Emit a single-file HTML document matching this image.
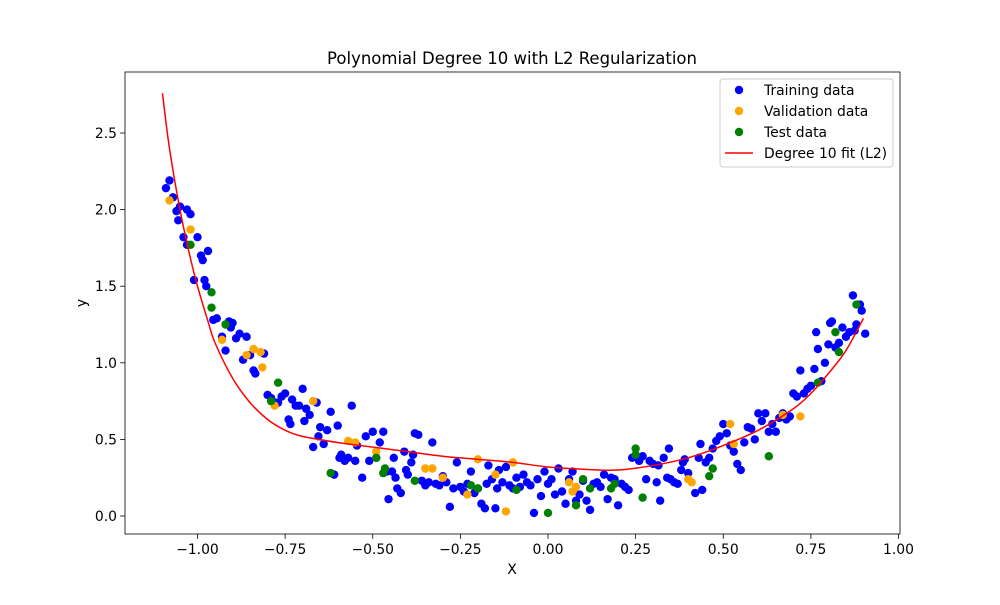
<!DOCTYPE html>
<html><head><meta charset="utf-8"><style>
body{margin:0;background:#fff}
svg text{font-family:"DejaVu Sans","Liberation Sans",sans-serif;fill:#000}
</style></head><body>
<svg id="chart" width="1000" height="600" viewBox="0 0 1000 600">
<rect width="1000" height="600" fill="#fff"/>
<text x="512" y="64" font-size="16.5" text-anchor="middle">Polynomial Degree 10 with L2 Regularization</text>
<text x="512" y="574" font-size="14" text-anchor="middle">X</text>
<text x="86" y="303" font-size="14" text-anchor="middle" transform="rotate(-90 86 303)">y</text>
<g id="plot"></g>
</svg>
<script>
const xTicks=[-1.00,-0.75,-0.50,-0.25,0.00,0.25,0.50,0.75,1.00];
const xTickLabels=["−1.00","−0.75","−0.50","−0.25","0.00","0.25","0.50","0.75","1.00"];
const yTicks=[0,0.5,1,1.5,2,2.5];
const yTickLabels=["0.0","0.5","1.0","1.5","2.0","2.5"];
const trainX=[-1.09,-1.08,-1.07,-1.06,-1.05,-1.055,-1.04,-1.03,-1.03,-1.02,-1.0,-0.99,-0.985,-1.01,-0.98,-0.975,-0.97,-0.955,-0.945,-0.93,-0.92,-0.91,-0.9,-0.905,-0.89,-0.88,-0.87,-0.86,-0.85,-0.84,-0.835,-0.81,-0.8,-0.79,-0.78,-0.77,-0.76,-0.75,-0.74,-0.735,-0.73,-0.72,-0.71,-0.7,-0.695,-0.69,-0.68,-0.67,-0.66,-0.655,-0.65,-0.64,-0.63,-0.62,-0.61,-0.6,-0.595,-0.59,-0.58,-0.57,-0.56,-0.55,-0.545,-0.53,-0.52,-0.51,-0.5,-0.49,-0.48,-0.47,-0.46,-0.455,-0.445,-0.44,-0.435,-0.43,-0.42,-0.41,-0.405,-0.4,-0.39,-0.385,-0.38,-0.37,-0.36,-0.35,-0.34,-0.33,-0.32,-0.31,-0.3,-0.29,-0.28,-0.27,-0.26,-0.25,-0.24,-0.23,-0.22,-0.21,-0.2,-0.19,-0.18,-0.175,-0.17,-0.16,-0.15,-0.145,-0.14,-0.13,-0.12,-0.11,-0.1,-0.09,-0.08,-0.07,-0.06,-0.05,-0.04,-0.03,-0.02,-0.01,0.0,0.01,0.02,0.03,0.04,0.05,0.06,0.07,0.08,0.09,0.1,0.11,0.12,0.13,0.14,0.15,0.16,0.17,0.18,0.19,0.2,0.21,0.22,0.23,0.24,0.26,0.27,0.28,0.29,0.3,0.31,0.315,0.32,0.33,0.34,0.345,0.35,0.36,0.37,0.38,0.385,0.39,0.4,0.42,0.43,0.435,0.44,0.45,0.46,0.47,0.48,0.49,0.5,0.51,0.52,0.53,0.54,0.55,0.56,0.57,0.58,0.59,0.6,0.61,0.62,0.63,0.64,0.65,0.66,0.67,0.68,0.69,0.7,0.71,0.72,0.73,0.74,0.75,0.76,0.765,0.77,0.78,0.79,0.8,0.805,0.81,0.82,0.83,0.84,0.85,0.86,0.87,0.875,0.88,0.89,0.895,0.905];
const trainY=[2.14,2.19,2.08,1.99,2.02,1.93,1.82,1.77,2.0,1.97,1.82,1.7,1.67,1.54,1.54,1.5,1.73,1.28,1.29,1.17,1.08,1.27,1.26,1.23,1.16,1.19,1.02,1.17,1.05,0.95,0.93,1.06,0.79,0.77,0.74,0.74,0.78,0.8,0.63,0.6,0.76,0.72,0.72,0.83,0.62,0.7,0.66,0.45,0.74,0.52,0.58,0.47,0.56,0.68,0.27,0.59,0.38,0.4,0.36,0.38,0.72,0.36,0.46,0.25,0.52,0.36,0.55,0.38,0.48,0.55,0.29,0.11,0.29,0.38,0.25,0.18,0.15,0.42,0.3,0.27,0.35,0.4,0.54,0.53,0.23,0.2,0.22,0.48,0.21,0.2,0.26,0.22,0.06,0.18,0.35,0.19,0.16,0.21,0.29,0.15,0.18,0.08,0.05,0.21,0.33,0.24,0.05,0.18,0.3,0.22,0.32,0.2,0.18,0.25,0.19,0.27,0.22,0.2,0.02,0.24,0.13,0.29,0.21,0.24,0.14,0.31,0.16,0.08,0.24,0.29,0.1,0.14,0.23,0.1,0.04,0.21,0.22,0.19,0.27,0.11,0.25,0.24,0.07,0.21,0.19,0.17,0.38,0.36,0.39,0.24,0.36,0.34,0.22,0.33,0.1,0.38,0.25,0.44,0.24,0.22,0.21,0.3,0.35,0.37,0.28,0.15,0.38,0.47,0.17,0.35,0.38,0.44,0.49,0.52,0.6,0.54,0.46,0.42,0.34,0.3,0.48,0.58,0.57,0.5,0.67,0.62,0.67,0.55,0.6,0.55,0.64,0.67,0.63,0.65,0.8,0.78,0.95,0.8,0.83,0.85,0.96,1.2,1.09,0.88,1.0,1.12,1.26,1.27,1.1,1.13,1.23,1.17,1.2,1.44,1.21,1.25,1.38,1.34,1.19];
const valX=[-1.08,-1.02,-0.93,-0.86,-0.84,-0.82,-0.815,-0.78,-0.67,-0.57,-0.55,-0.49,-0.35,-0.33,-0.3,-0.23,-0.2,-0.15,-0.12,-0.1,0.06,0.07,0.08,0.4,0.41,0.52,0.53,0.67,0.72];
const valY=[2.06,1.87,1.15,1.05,1.09,1.07,0.97,0.72,0.75,0.49,0.48,0.42,0.31,0.31,0.25,0.14,0.37,0.27,0.03,0.35,0.22,0.16,0.19,0.24,0.22,0.6,0.47,0.66,0.65];
const testX=[-1.02,-0.96,-0.96,-0.92,-0.79,-0.77,-0.62,-0.49,-0.47,-0.465,-0.38,-0.22,-0.2,-0.09,0.0,0.1,0.08,0.12,0.18,0.19,0.25,0.25,0.27,0.46,0.47,0.63,0.77,0.82,0.83,0.88];
const testY=[1.77,1.46,1.36,1.25,0.75,0.87,0.28,0.38,0.28,0.31,0.23,0.2,0.18,0.17,0.02,0.24,0.07,0.18,0.18,0.21,0.4,0.44,0.12,0.26,0.31,0.39,0.87,1.2,1.07,1.38];
const fitX=[-1.1,-1.08,-1.05,-1.02,-1.0,-0.97,-0.95,-0.9,-0.85,-0.8,-0.75,-0.7,-0.6,-0.5,-0.4,-0.3,-0.2,-0.1,0,0.1,0.2,0.3,0.4,0.5,0.6,0.7,0.75,0.8,0.85,0.9];
const fitY=[2.76,2.4,2.0,1.68,1.5,1.27,1.13,0.9,0.74,0.63,0.56,0.52,0.48,0.45,0.42,0.39,0.37,0.35,0.32,0.305,0.30,0.33,0.38,0.46,0.56,0.7,0.8,0.93,1.08,1.29];

const L=125,R=900,T=72,B=534;
const sx=v=>548+350.5*v, sy=v=>516-153.2*v;
const NS="http://www.w3.org/2000/svg";
const g=document.getElementById('plot');
function mk(tag,attrs,parent){const e=document.createElementNS(NS,tag);for(const k in attrs)e.setAttribute(k,attrs[k]);(parent||g).appendChild(e);return e;}

xTicks.forEach((t,i)=>{
  const x=sx(t);
  const tk=mk('line',{x1:x,x2:x,y1:B,y2:B+4.9,stroke:'#000','stroke-width':0.8});
  
  
  const tx=mk('text',{x:x,y:B+20,'font-size':13.9,'text-anchor':'middle'});tx.textContent=xTickLabels[i];
  
  
});
yTicks.forEach((t,i)=>{
  const y=sy(t);
  const tk=mk('line',{x1:L-4.9,x2:L,y1:y,y2:y,stroke:'#000','stroke-width':0.8});
  
  
  const tx=mk('text',{x:L-8,y:y+5,'font-size':13.9,'text-anchor':'end'});tx.textContent=yTickLabels[i];
  
  
});
function scatter(xs,ys,color,name){
  xs.forEach((x,i)=>{
    const c=mk('circle',{cx:sx(x),cy:sy(ys[i]),r:4.2,fill:color});
    
    
  });
}
scatter(trainX,trainY,'#0000ff','training-point');
scatter(valX,valY,'#ffa500','validation-point');
scatter(testX,testY,'#008000','test-point');
// smooth Catmull-Rom path through fit samples
const P=fitX.map((x,i)=>[sx(x),sy(fitY[i])]);
let d='M'+P[0][0]+','+P[0][1];
for(let i=0;i<P.length-1;i++){
  const p0=P[i-1]||P[i],p1=P[i],p2=P[i+1],p3=P[i+2]||P[i+1];
  const c1=[p1[0]+(p2[0]-p0[0])/6,p1[1]+(p2[1]-p0[1])/6];
  const c2=[p2[0]-(p3[0]-p1[0])/6,p2[1]-(p3[1]-p1[1])/6];
  d+=' C'+c1[0]+','+c1[1]+' '+c2[0]+','+c2[1]+' '+p2[0]+','+p2[1];
}
const fit=mk('path',{d:d,fill:'none',stroke:'#ff0000','stroke-width':1.5});


const frame=mk('rect',{x:L,y:T,width:R-L,height:B-T,fill:'none',stroke:'#000','stroke-width':0.8});



const lg=mk('g',{});


mk('rect',{x:720,y:79,width:173,height:88,rx:3,fill:'#fff','fill-opacity':0.8,stroke:'#ccc'},lg);
const items=[['Training data','#0000ff','c'],['Validation data','#ffa500','c'],['Test data','#008000','c'],['Degree 10 fit (L2)','#ff0000','l']];
items.forEach((it,i)=>{
  const y=90+i*21;
  const eg=mk('g',{},lg);
  
  
  if(it[2]==='c')mk('circle',{cx:739,cy:y,r:4.2,fill:it[1]},eg);
  else mk('line',{x1:725,x2:753,y1:y,y2:y,stroke:it[1],'stroke-width':1.5},eg);
  const t=mk('text',{x:764,y:y+5,'font-size':13.9},eg);t.textContent=it[0];
});
</script>
</body></html>
